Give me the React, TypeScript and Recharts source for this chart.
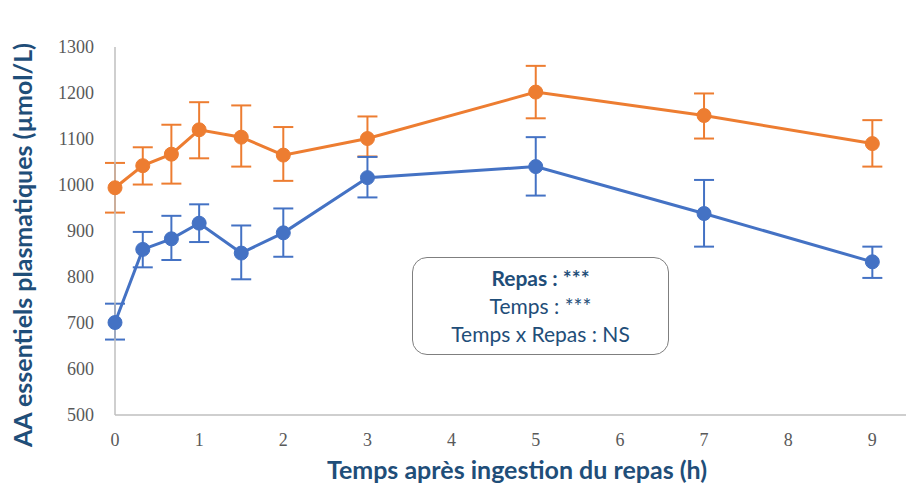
import { LineChart, Line, XAxis, YAxis, ErrorBar } from "recharts";

const hours = [0, 0.33, 0.67, 1, 1.5, 2, 3, 5, 7, 9];

const orangeMean = [994, 1042, 1067, 1120, 1104, 1065, 1101, 1202, 1151, 1090];
const orangeHigh = [1048, 1082, 1131, 1180, 1173, 1126, 1149, 1259, 1199, 1141];
const orangeLow = [940, 1001, 1003, 1058, 1040, 1009, 1062, 1145, 1101, 1040];

const blueMean = [701, 860, 883, 917, 852, 896, 1016, 1040, 938, 833];
const blueHigh = [742, 898, 933, 958, 912, 949, 1061, 1104, 1011, 866];
const blueLow = [664, 821, 837, 876, 795, 844, 973, 977, 866, 798];

const xTicks = [0, 1, 2, 3, 4, 5, 6, 7, 8, 9];
const yTicks = [500, 600, 700, 800, 900, 1000, 1100, 1200, 1300];

const statLines = ["Repas : ***", "Temps : ***", "Temps x Repas : NS"];

const data = hours.map((h, i) => ({
  x: h,
  orange: orangeMean[i],
  orangeErr: [orangeMean[i] - orangeLow[i], orangeHigh[i] - orangeMean[i]],
  blue: blueMean[i],
  blueErr: [blueMean[i] - blueLow[i], blueHigh[i] - blueMean[i]],
}));

const ORANGE = "#ED7D31";
const BLUE = "#4472C4";
const NAVY = "#1F4E79";
const titleFont = "Lato, 'Open Sans', sans-serif";
const serif = "'Liberation Serif', 'Times New Roman', serif";

function XTick(props: any) {
  const { x, y, payload } = props;
  return (
    <text x={x} y={y + 23} textAnchor="middle" fontFamily={serif} fontSize={18} fill="#595959">
      {payload.value}
    </text>
  );
}

function YTick(props: any) {
  const { x, y, payload } = props;
  return (
    <text x={x - 13} y={y + 6} textAnchor="end" fontFamily={serif} fontSize={18} fill="#595959">
      {payload.value}
    </text>
  );
}

export default function App() {
  return (
    <div
      style={{
        position: "absolute",
        left: 0,
        top: 0,
        width: 908,
        height: 487,
        background: "#fff",
        overflow: "hidden",
      }}
    >
      <LineChart
        width={908}
        height={487}
        data={data}
        margin={{ top: 47, right: 2, left: 55, bottom: 71 }}
      >
        <XAxis
          dataKey="x"
          type="number"
          domain={[0, 9.4]}
          ticks={xTicks}
          tickLine={false}
          tick={<XTick />}
          stroke="#BFBFBF"
          strokeWidth={1.5}
          height={1}
        />
        <YAxis
          type="number"
          domain={[500, 1300]}
          ticks={yTicks}
          tickLine={false}
          tick={<YTick />}
          stroke="#BFBFBF"
          strokeWidth={1.5}
          width={60}
        />
        <Line
          dataKey="orange"
          stroke={ORANGE}
          strokeWidth={3}
          dot={{ r: 7, fill: ORANGE, stroke: ORANGE, strokeWidth: 1 }}
          activeDot={false}
          isAnimationActive={false}
        >
          <ErrorBar dataKey="orangeErr" width={10} stroke={ORANGE} strokeWidth={2} direction="y" />
        </Line>
        <Line
          dataKey="blue"
          stroke={BLUE}
          strokeWidth={3}
          dot={{ r: 7, fill: BLUE, stroke: BLUE, strokeWidth: 1 }}
          activeDot={false}
          isAnimationActive={false}
        >
          <ErrorBar dataKey="blueErr" width={10} stroke={BLUE} strokeWidth={2} direction="y" />
        </Line>
      </LineChart>

      {/* y axis title */}
      <div
        style={{
          position: "absolute",
          left: 22,
          top: 245,
          transform: "translate(-50%, -50%) rotate(-90deg)",
          whiteSpace: "nowrap",
          fontFamily: titleFont,
          fontWeight: 700,
          fontSize: 25,
          lineHeight: 1,
          color: NAVY,
        }}
      >
        AA essentiels plasmatiques (µmol/L)
      </div>

      {/* x axis title */}
      <div
        style={{
          position: "absolute",
          left: 517,
          top: 469,
          transform: "translate(-50%, -50%)",
          whiteSpace: "nowrap",
          fontFamily: titleFont,
          fontWeight: 700,
          fontSize: 25,
          lineHeight: 1,
          color: NAVY,
        }}
      >
        Temps après ingestion du repas (h)
      </div>

      {/* stats box */}
      <div
        style={{
          position: "absolute",
          left: 412,
          top: 257,
          width: 257,
          height: 98,
          boxSizing: "border-box",
          border: "1.5px solid #7F7F7F",
          borderRadius: 15,
          background: "#fff",
          display: "flex",
          flexDirection: "column",
          alignItems: "center",
          justifyContent: "center",
          fontFamily: titleFont,
          fontSize: 21,
          color: NAVY,
          lineHeight: "28px",
        }}
      >
        {statLines.map((t, i) => (
          <div key={t} style={{ fontWeight: i === 0 ? 700 : 400 }}>
            {t}
          </div>
        ))}
      </div>
    </div>
  );
}
